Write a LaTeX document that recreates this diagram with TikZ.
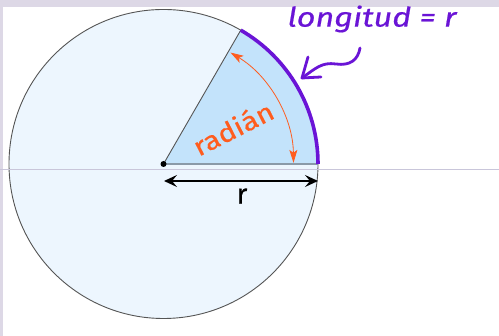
\documentclass[tikz,border=0pt]{standalone}
\usepackage{fontspec}
\setmainfont{Fira Sans}
\newfontfamily\thickfont[FakeBold=0.5]{Fira Sans}
\usetikzlibrary{arrows.meta,calc}
\definecolor{lav}{HTML}{DDD8E6}
\definecolor{hline}{HTML}{C9C6DA}
\definecolor{circfill}{HTML}{EDF6FE}
\definecolor{secfill}{HTML}{C3E3FB}
\definecolor{purp}{HTML}{6A14D6}
\definecolor{orng}{HTML}{FF5C1E}
\definecolor{edge}{HTML}{555555}
\definecolor{secedge}{HTML}{8A9AA8}
\tikzset{
  lbl/.style={inner sep=0pt},
}
\begin{document}
\begin{tikzpicture}[x=1pt,y=1pt]
\useasboundingbox (0,0) rectangle (499,336);
% frame
\fill[lav] (0,0) rectangle (499,336);
\fill[white] (3,0) rectangle (499,329);
% circle
\coordinate (C) at (163.5,172);
\fill[circfill] (C) circle (154.5);
\fill[secfill] (C) -- ++(0:154.5) arc (0:60:154.5) -- cycle;
\draw[edge, line width=0.9] (C) circle (154.5);
\coordinate (E0) at ($(C)+(0:154.5)$);
\coordinate (E60) at ($(C)+(60:154.5)$);
\draw[edge, line width=0.9] (C) -- (E60);
\draw[secedge, line width=2] (C) -- (E0);
% horizontal line
\coordinate (HL) at (0,167);
\coordinate (HR) at (499,167);
\draw[hline, line width=0.8] (HL) -- (HR);
% purple arc
\draw[purp, line width=3.6] (E0) arc (0:60:154.5);
% center dot
\fill[black] (C) circle (3);
% orange arc
\draw[orng, line width=0.8, {Stealth[length=13pt,width=8pt,inset=3pt]}-{Stealth[length=13pt,width=8pt,inset=3pt]}]
  ($(C)+(59:130)$) arc (59:0.5:130);
% radius arrow
\coordinate (RA) at (164,155);
\coordinate (RB) at (318,155);
\draw[black, line width=1.5, {Stealth[length=13pt,width=12pt,inset=5pt]}-{Stealth[length=13pt,width=12pt,inset=5pt]}] (RA) -- (RB);
\node[lbl, font=\thickfont\fontsize{28}{30}\selectfont] (r) at (242,140) {r};
% radian label
\node[lbl, text=orng, rotate=27, xscale=1.15, font=\thickfont\fontsize{26}{28}\selectfont] (rad) at (233,208) {radián};
% longitud label
\node[lbl, text=purp, xscale=1.2, font=\thickfont\fontsize{27}{29}\itshape\selectfont] (lon) at (372,317) {longitud = r};
% curly arrow
\coordinate (SA) at (360,288);
\coordinate (TIP) at (302,258);
\draw[purp, line width=2.8, line cap=round, line join=round]
  (SA) .. controls (358,276) and (350,270) .. (336,272)
  .. controls (322,274) and (316,268) .. (TIP);
\draw[purp, line width=2.8, line cap=round, line join=round]
  (308,279) -- (TIP) -- (321,259);
\end{tikzpicture}
\end{document}
